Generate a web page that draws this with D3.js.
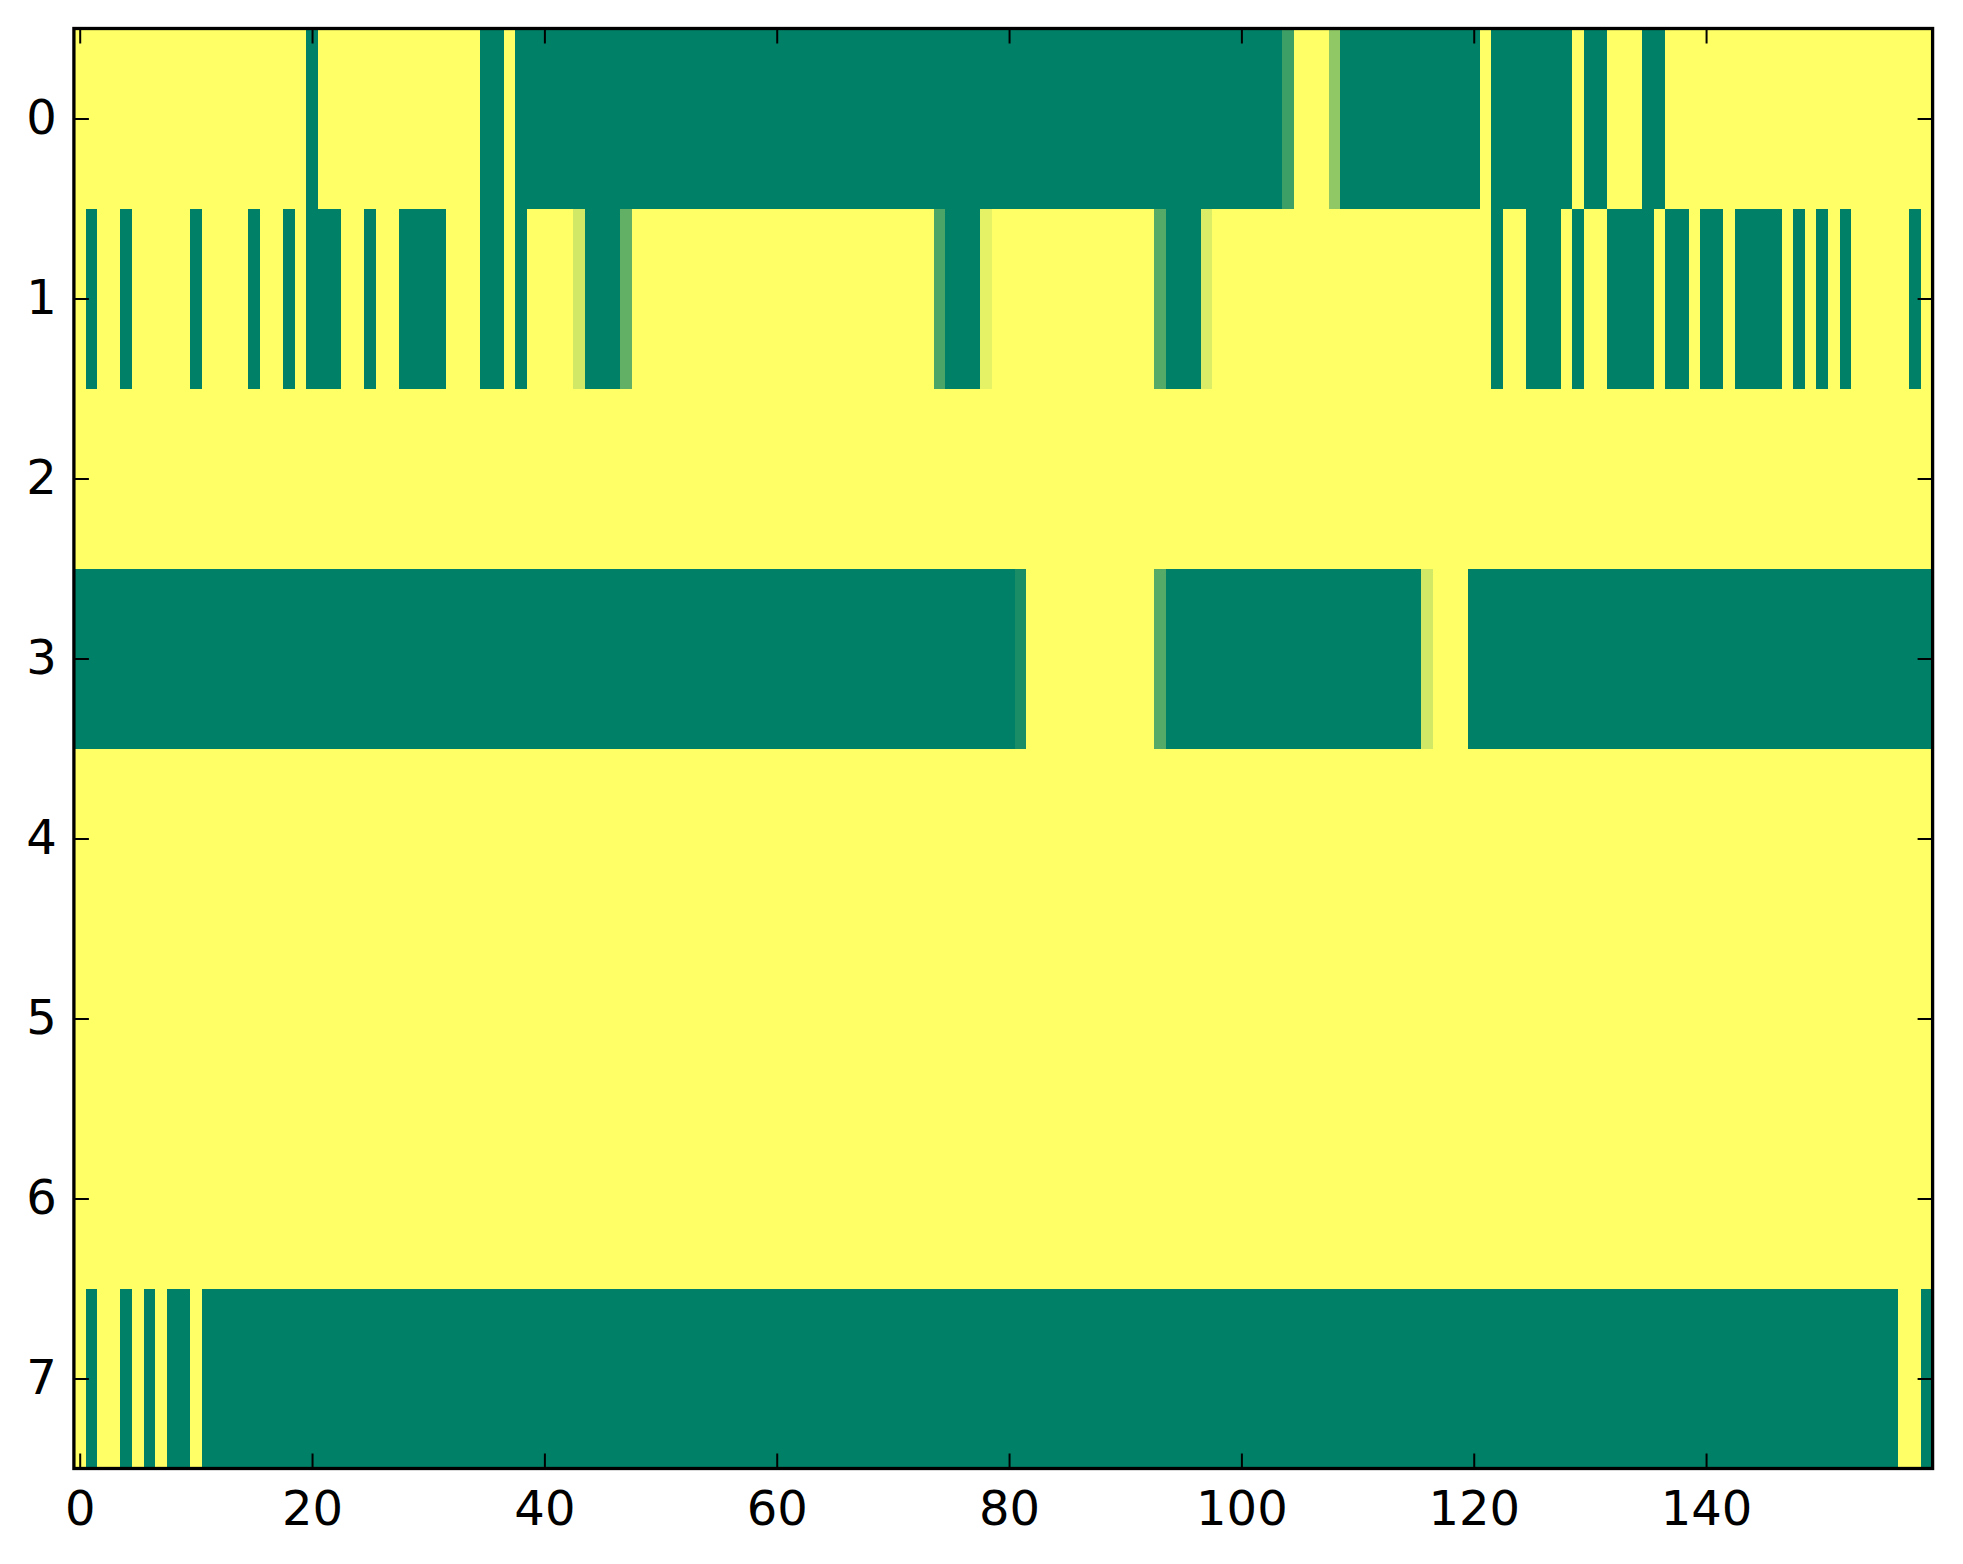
<!DOCTYPE html>
<html>
<head>
<meta charset="utf-8">
<script src="https://cdn.jsdelivr.net/npm/d3@7"></script>
<style>
  html, body { margin: 0; padding: 0; background: #ffffff; }
  svg { display: block; }
  .tick text { font-family: "DejaVu Sans", sans-serif; font-size: 48px; fill: #000; }
</style>
</head>
<body>
<svg id="chart" width="1963" height="1564"></svg>
<script>
// Row labels (y categories) and tick labels
const rowLabels = [0, 1, 2, 3, 4, 5, 6, 7];
const xTickValues = [0, 20, 40, 60, 80, 100, 120, 140];
const yTickValues = [0, 1, 2, 3, 4, 5, 6, 7];

// Cell values per row (160 columns each), 0 = dark green, 1 = yellow
const row0 = [
  1,1,1,1,1,1,1,1,1,1,1,1,1,1,1,1,1,1,1,1,
  0,1,1,1,1,1,1,1,1,1,1,1,1,1,1,0,0,1,0,0,
  0,0,0,0,0,0,0,0,0,0,0,0,0,0,0,0,0,0,0,0,
  0,0,0,0,0,0,0,0,0,0,0,0,0,0,0,0,0,0,0,0,
  0,0,0,0,0,0,0,0,0,0,0,0,0,0,0,0,0,0,0,0,
  0,0,0,0,0.24,1,1,1,0.57,0,0,0,0,0,0,0,0,0,0,0,
  0,1,0,0,0,0,0,0,0,1,0,0,1,1,1,0,0,1,1,1,
  1,1,1,1,1,1,1,1,1,1,1,1,1,1,1,1,1,1,1,1
];
const row1 = [
  1,0,1,1,0,1,1,1,1,1,0,1,1,1,1,0,1,1,0,1,
  0,0,0,1,1,0,1,1,0,0,0,0,1,1,1,0,0,1,0,1,
  1,1,1,0.82,0,0,0,0.38,1,1,1,1,1,1,1,1,1,1,1,1,
  1,1,1,1,1,1,1,1,1,1,1,1,1,1,0.29,0,0,0,0.9,1,
  1,1,1,1,1,1,1,1,1,1,1,1,1,0.33,0,0,0,0.86,1,1,
  1,1,1,1,1,1,1,1,1,1,1,1,1,1,1,1,1,1,1,1,
  1,1,0,1,1,0,0,0,1,0,1,1,0,0,0,0,1,0,0,1,
  0,0,1,0,0,0,0,1,0,1,0,1,0,1,1,1,1,1,0,1
];
const row2 = [
  1,1,1,1,1,1,1,1,1,1,1,1,1,1,1,1,1,1,1,1,
  1,1,1,1,1,1,1,1,1,1,1,1,1,1,1,1,1,1,1,1,
  1,1,1,1,1,1,1,1,1,1,1,1,1,1,1,1,1,1,1,1,
  1,1,1,1,1,1,1,1,1,1,1,1,1,1,1,1,1,1,1,1,
  1,1,1,1,1,1,1,1,1,1,1,1,1,1,1,1,1,1,1,1,
  1,1,1,1,1,1,1,1,1,1,1,1,1,1,1,1,1,1,1,1,
  1,1,1,1,1,1,1,1,1,1,1,1,1,1,1,1,1,1,1,1,
  1,1,1,1,1,1,1,1,1,1,1,1,1,1,1,1,1,1,1,1
];
const row3 = [
  0,0,0,0,0,0,0,0,0,0,0,0,0,0,0,0,0,0,0,0,
  0,0,0,0,0,0,0,0,0,0,0,0,0,0,0,0,0,0,0,0,
  0,0,0,0,0,0,0,0,0,0,0,0,0,0,0,0,0,0,0,0,
  0,0,0,0,0,0,0,0,0,0,0,0,0,0,0,0,0,0,0,0,
  0,0.1,1,1,1,1,1,1,1,1,1,1,1,0.33,0,0,0,0,0,0,
  0,0,0,0,0,0,0,0,0,0,0,0,0,0,0,0,0.82,1,1,1,
  0,0,0,0,0,0,0,0,0,0,0,0,0,0,0,0,0,0,0,0,
  0,0,0,0,0,0,0,0,0,0,0,0,0,0,0,0,0,0,0,0
];
const row4 = [
  1,1,1,1,1,1,1,1,1,1,1,1,1,1,1,1,1,1,1,1,
  1,1,1,1,1,1,1,1,1,1,1,1,1,1,1,1,1,1,1,1,
  1,1,1,1,1,1,1,1,1,1,1,1,1,1,1,1,1,1,1,1,
  1,1,1,1,1,1,1,1,1,1,1,1,1,1,1,1,1,1,1,1,
  1,1,1,1,1,1,1,1,1,1,1,1,1,1,1,1,1,1,1,1,
  1,1,1,1,1,1,1,1,1,1,1,1,1,1,1,1,1,1,1,1,
  1,1,1,1,1,1,1,1,1,1,1,1,1,1,1,1,1,1,1,1,
  1,1,1,1,1,1,1,1,1,1,1,1,1,1,1,1,1,1,1,1
];
const row5 = [
  1,1,1,1,1,1,1,1,1,1,1,1,1,1,1,1,1,1,1,1,
  1,1,1,1,1,1,1,1,1,1,1,1,1,1,1,1,1,1,1,1,
  1,1,1,1,1,1,1,1,1,1,1,1,1,1,1,1,1,1,1,1,
  1,1,1,1,1,1,1,1,1,1,1,1,1,1,1,1,1,1,1,1,
  1,1,1,1,1,1,1,1,1,1,1,1,1,1,1,1,1,1,1,1,
  1,1,1,1,1,1,1,1,1,1,1,1,1,1,1,1,1,1,1,1,
  1,1,1,1,1,1,1,1,1,1,1,1,1,1,1,1,1,1,1,1,
  1,1,1,1,1,1,1,1,1,1,1,1,1,1,1,1,1,1,1,1
];
const row6 = [
  1,1,1,1,1,1,1,1,1,1,1,1,1,1,1,1,1,1,1,1,
  1,1,1,1,1,1,1,1,1,1,1,1,1,1,1,1,1,1,1,1,
  1,1,1,1,1,1,1,1,1,1,1,1,1,1,1,1,1,1,1,1,
  1,1,1,1,1,1,1,1,1,1,1,1,1,1,1,1,1,1,1,1,
  1,1,1,1,1,1,1,1,1,1,1,1,1,1,1,1,1,1,1,1,
  1,1,1,1,1,1,1,1,1,1,1,1,1,1,1,1,1,1,1,1,
  1,1,1,1,1,1,1,1,1,1,1,1,1,1,1,1,1,1,1,1,
  1,1,1,1,1,1,1,1,1,1,1,1,1,1,1,1,1,1,1,1
];
const row7 = [
  1,0,1,1,0,1,0,1,0,0,1,0,0,0,0,0,0,0,0,0,
  0,0,0,0,0,0,0,0,0,0,0,0,0,0,0,0,0,0,0,0,
  0,0,0,0,0,0,0,0,0,0,0,0,0,0,0,0,0,0,0,0,
  0,0,0,0,0,0,0,0,0,0,0,0,0,0,0,0,0,0,0,0,
  0,0,0,0,0,0,0,0,0,0,0,0,0,0,0,0,0,0,0,0,
  0,0,0,0,0,0,0,0,0,0,0,0,0,0,0,0,0,0,0,0,
  0,0,0,0,0,0,0,0,0,0,0,0,0,0,0,0,0,0,0,0,
  0,0,0,0,0,0,0,0,0,0,0,0,0,0,0,0,0,1,1,0
];

const rows = [row0, row1, row2, row3, row4, row5, row6, row7];

// Layout
const W = 1963, H = 1564;
const plot = { left: 73.9, right: 1932.6, top: 28.5, bottom: 1468.5 };
const nCols = row0.length;

const svg = d3.select("#chart");

const x = d3.scaleLinear().domain([-0.5, nCols - 0.5]).range([plot.left, plot.right]);
const y = d3.scaleLinear().domain([-0.5, rowLabels.length - 0.5]).range([plot.top, plot.bottom]);

// matplotlib "summer" colormap: (v, 0.5 + 0.5 v, 0.4)
const color = d3.scaleLinear().domain([0, 1]).range(["#008066", "#ffff66"]);

const cells = [];
rows.forEach((r, ri) => r.forEach((v, ci) => cells.push({ r: rowLabels[ri], c: ci, v })));

svg.append("g")
  .attr("shape-rendering", "crispEdges")
  .selectAll("rect")
  .data(cells)
  .join("rect")
  .attr("x", d => x(d.c - 0.5))
  .attr("y", d => y(d.r - 0.5))
  .attr("width", d => x(d.c + 0.5) - x(d.c - 0.5) + 0.6)
  .attr("height", d => y(d.r + 0.5) - y(d.r - 0.5) + 0.6)
  .attr("fill", d => color(d.v));

const tickLen = 15;
function styleAxis(g) {
  g.select(".domain").remove();
  g.selectAll(".tick line").attr("stroke", "#000").attr("stroke-width", 2);
}

svg.append("g")
  .attr("transform", `translate(0,${plot.bottom})`)
  .call(d3.axisBottom(x).tickValues(xTickValues).tickFormat(d3.format("d"))
    .tickSizeInner(-tickLen).tickSizeOuter(0).tickPadding(22))
  .call(styleAxis);

svg.append("g")
  .attr("transform", `translate(0,${plot.top})`)
  .call(d3.axisTop(x).tickValues(xTickValues).tickFormat("")
    .tickSizeInner(-tickLen).tickSizeOuter(0))
  .call(styleAxis);

svg.append("g")
  .attr("transform", `translate(${plot.left},0)`)
  .call(d3.axisLeft(y).tickValues(yTickValues).tickFormat(d3.format("d"))
    .tickSizeInner(-tickLen).tickSizeOuter(0).tickPadding(17))
  .call(styleAxis);

svg.append("g")
  .attr("transform", `translate(${plot.right},0)`)
  .call(d3.axisRight(y).tickValues(yTickValues).tickFormat("")
    .tickSizeInner(-tickLen).tickSizeOuter(0))
  .call(styleAxis);

svg.selectAll(".tick text")
  .attr("font-family", "'DejaVu Sans', sans-serif")
  .attr("font-size", 48);

// Frame (spines)
svg.append("rect")
  .attr("x", plot.left)
  .attr("y", plot.top)
  .attr("width", plot.right - plot.left)
  .attr("height", plot.bottom - plot.top)
  .attr("fill", "none")
  .attr("stroke", "#000")
  .attr("stroke-width", 3.3);
</script>
</body>
</html>
